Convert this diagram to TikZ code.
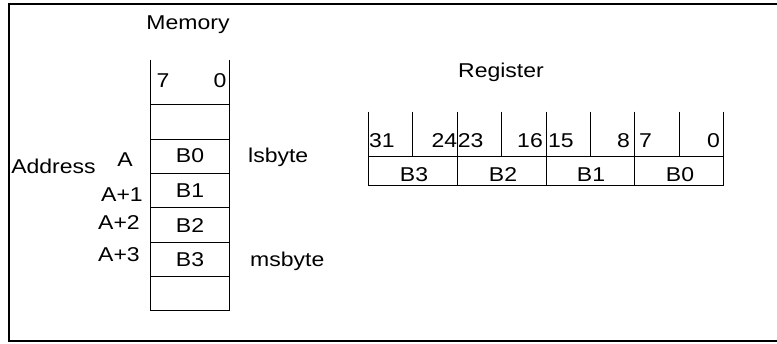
\documentclass[tikz,border=0pt]{standalone}
\usepackage{fontspec}
\setmainfont{Liberation Sans}[FakeStretch=1.15]
\begin{document}
\begin{tikzpicture}[x=1pt,y=-1pt,
  txt/.style={inner sep=0pt, anchor=base, font=\fontsize{20}{22}\selectfont},
  frame/.style={line width=2pt},
  grid/.style={line width=1pt}]
\useasboundingbox (0,0) rectangle (777,344);
% outer frame (right side cut off)
\draw[frame] (777,4) -- (9,4) -- (9,341) -- (777,341);

% ---------- Memory ----------
\draw[grid] (150,60) -- (150,311) (229.5,60) -- (229.5,311);
\foreach \y in {105,139.5,174,208,242.5,277,311}
  \draw[grid] (150,\y) -- (229.5,\y);

\node[txt] (memory) at (188,30) {Memory};
\node[txt] (m7) at (163,88) {7};
\node[txt] (m0) at (220,88) {0};
\node[txt] (mb0) at (190,163) {B0};
\node[txt] (mb1) at (190,198) {B1};
\node[txt] (mb2) at (190,233) {B2};
\node[txt] (mb3) at (190,267) {B3};
\node[txt, anchor=base west] (lsb) at (248,163) {lsbyte};
\node[txt, anchor=base west] (msb) at (250,267) {msbyte};
\node[txt] (addr) at (53.5,174) {Address};
\node[txt] (a0) at (125,167) {A};
\node[txt] (a1) at (122,202) {A+1};
\node[txt] (a2) at (119,230) {A+2};
\node[txt] (a3) at (119,262) {A+3};

% ---------- Register ----------
\node[txt] (register) at (501,78) {Register};
\foreach \x in {368.3,457.3,546,634.3,723.3}
  \draw[grid] (\x,111.7) -- (\x,186);
\foreach \x in {412.7,501.7,590,679}
  \draw[grid] (\x,111.7) -- (\x,156.7);
\draw[grid] (368.3,156.7) -- (723.3,156.7);
\draw[grid] (368.3,186) -- (723.3,186);

\node[txt, anchor=base west] (r31) at (368.8,148) {31};
\node[txt, anchor=base east] (r24) at (457.3,148) {24};
\node[txt, anchor=base west] (r23) at (457.6,148) {23};
\node[txt, anchor=base east] (r16) at (543,148) {16};
\node[txt, anchor=base west] (r15) at (548,148) {15};
\node[txt, anchor=base east] (r8) at (630,148) {8};
\node[txt, anchor=base west] (r7) at (639,148) {7};
\node[txt, anchor=base east] (r0) at (720,148) {0};

\node[txt] (rb3) at (414,182) {B3};
\node[txt] (rb2) at (503,182) {B2};
\node[txt] (rb1) at (591,182) {B1};
\node[txt] (rb0) at (680,182) {B0};
\end{tikzpicture}
\end{document}
